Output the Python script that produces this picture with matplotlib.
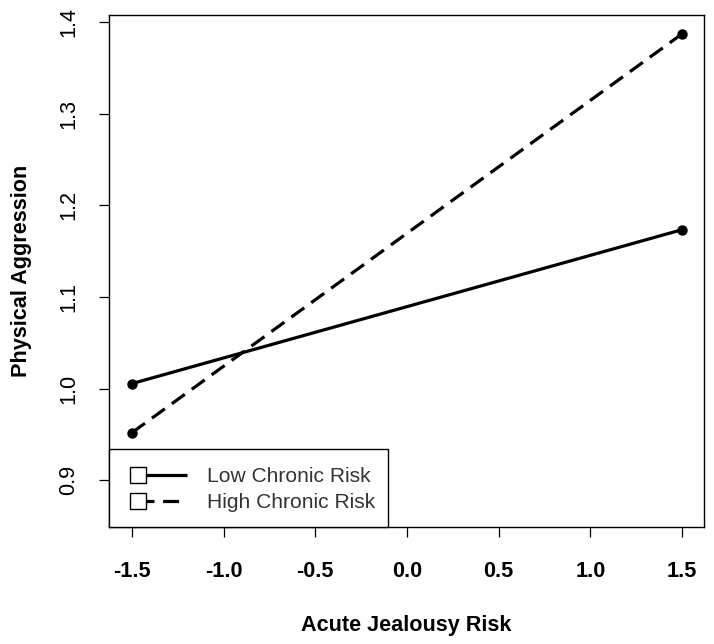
import numpy as np
import matplotlib
matplotlib.use('Agg')
from matplotlib import pyplot as plt
from matplotlib.legend_handler import HandlerLine2D
from matplotlib.patches import Rectangle

# simple slopes: acute jealousy risk (x) by chronic risk group
acute = [-1.5, 1.5]
low_chronic = [1.0055, 1.1734]
high_chronic = [0.952, 1.387]
series_names = ['Low Chronic Risk', 'High Chronic Risk']

x_ticks = [-1.5, -1.0, -0.5, 0.0, 0.5, 1.0, 1.5]
y_ticks = [0.9, 1.0, 1.1, 1.2, 1.3, 1.4]

plt.rcParams['font.family'] = ['Liberation Sans', 'DejaVu Sans']
FS = 15.6
LEG_FS = 15.15


class LeftMarkerHandler(HandlerLine2D):
    # R-style legend key: open square, then the line running right from it
    def create_artists(self, legend, orig_handle, xdescent, ydescent,
                       width, height, fontsize, trans):
        artists = super().create_artists(legend, orig_handle, xdescent, ydescent,
                                         width, height, fontsize, trans)
        line = artists[0]
        x = np.asarray(line.get_xdata(), dtype=float)
        line.set_xdata([x[0] + 0.76 * fontsize, x[-1]])
        line.set_markevery([0])
        return artists


fig = plt.figure(figsize=(7.14, 6.44), dpi=100)
ax = fig.add_axes([109 / 714, 1 - 527 / 644, (704 - 109) / 714, (527 - 14.7) / 644])

lw = 2.3
ax.plot(acute, low_chronic, color='black', lw=lw, marker='o', ms=6.5,
        solid_capstyle='butt')
ax.plot(acute, high_chronic, color='black', lw=lw, marker='o', ms=6.5,
        dashes=(5, 2.7), dash_capstyle='butt')

ax.set_xlim(-1.6255, 1.62)
ax.set_ylim(0.849, 1.408)

ax.set_xticks(x_ticks)
ax.set_xticklabels(['%.1f' % v for v in x_ticks], fontsize=FS, fontweight='bold')
ax.set_yticks(y_ticks)
ax.set_yticklabels(['%.1f' % v for v in y_ticks], fontsize=FS, rotation=90,
                   va='center')
ax.tick_params(direction='out', length=7.5, width=0.9, pad=14)
ax.tick_params(axis='x', pad=17)
for s in ax.spines.values():
    s.set_linewidth(1.0)

ax.set_xlabel('Acute Jealousy Risk', fontsize=FS, fontweight='bold', labelpad=24)
ax.set_ylabel('Physical Aggression', fontsize=FS, fontweight='bold', labelpad=19)

# legend box drawn separately so the entries can sit a little low, like R's
ax.add_patch(Rectangle((0, 0), 0.469, 0.152, transform=ax.transAxes,
                       facecolor='white', edgecolor='black', lw=1.0,
                       zorder=4.5, clip_on=False))
h_low = plt.Line2D([], [], color='black', lw=lw, marker='s', ms=11,
                   mfc='white', mec='black', mew=1.0, solid_capstyle='butt')
h_high = plt.Line2D([], [], color='black', lw=lw, marker='s', ms=11,
                    mfc='white', mec='black', mew=1.0, dashes=(5, 2.7),
                    dash_capstyle='butt')
handler = LeftMarkerHandler(numpoints=2, marker_pad=0)
leg = ax.legend([h_low, h_high], series_names, loc='center left',
                bbox_to_anchor=(0.0218, 0.0732), borderaxespad=0,
                handler_map={h_low: handler, h_high: handler},
                fontsize=LEG_FS, handlelength=3.1, handletextpad=0.95,
                borderpad=0, labelspacing=0.34, frameon=False)
for t in leg.get_texts():
    t.set_color('#333333')

fig.savefig('out.png', dpi=100)
